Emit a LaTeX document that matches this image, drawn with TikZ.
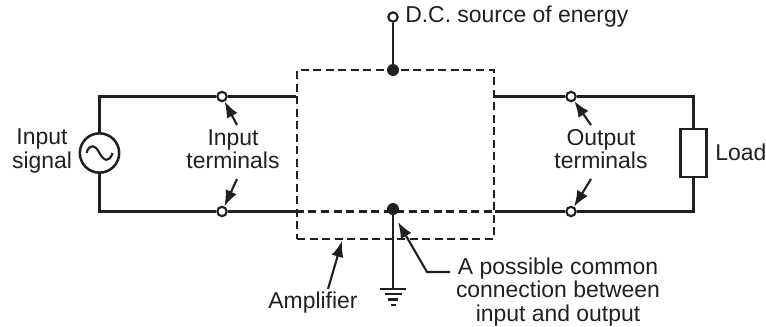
\documentclass[tikz,border=0pt]{standalone}
\usepackage{fontspec}
\setmainfont{Liberation Sans}
\usetikzlibrary{arrows.meta}
\definecolor{ink}{HTML}{231F20}
\tikzset{
>={Latex[width=3.2mm,length=4.2mm]},
	wire/.style={
		draw=ink,
		line width=2.25pt},
	thinwire/.style={
		draw=ink,
		line width=1.6pt},
	lead/.style={
		draw=ink,
		line width=1.6pt,
		->},
	dashwire/.style={
		draw=ink,
		line width=1.6pt,
		dash pattern=on 6pt off 3.4pt},
	terminal/.style={
		circle,
		draw=ink,
		fill=white,
		line width=1.6pt,
		inner sep=0pt,
		minimum size=7pt},
	dot/.style={
		circle,
		fill=ink,
		inner sep=0pt,
		minimum size=9pt},
	label/.style={
		text=ink,
		font=\fontsize{17.2}{17.6}\selectfont,
		align=center,
		inner sep=0pt}
}
\begin{document}
\begin{tikzpicture}
[x=0.75pt,y=-0.75pt]
\useasboundingbox (0,0) rectangle (766,326);
\node[dashwire, rectangle, minimum width=147.75pt, minimum height=126.75pt, inner sep=0pt] (amp) at (395.5,154.5) {};
\node[circle, wire, line width=1.9pt, inner sep=0pt, minimum size=29.5pt] (source) at (99.5,153) {};
\node[rectangle, wire, line width=1.9pt, inner sep=0pt, minimum width=19.5pt, minimum height=36pt] (load) at (693.5,153) {};
\coordinate (leftTop) at (99.5,96.5);
\coordinate (leftBot) at (99.5,211.5);
\coordinate (rightTop) at (693.5,96.5);
\coordinate (rightBot) at (693.5,211.5);
\coordinate (gnd) at (393,289);
\coordinate (bend) at (427,272);
\coordinate (commonEnd) at (450,272);
\node[terminal] (inTop) at (222,96.5) {};
\node[terminal] (inBot) at (222,211.5) {};
\node[terminal] (outTop) at (571,96.5) {};
\node[terminal] (outBot) at (571,211.5) {};
\node[terminal] (dc) at (393,17) {};
\node[dot] (dotTop) at (393,70) {};
\node[dot] (dotBot) at (393,209) {};
\node[label, anchor=west] (dcText) at (405,17) {D.C. source of energy};
\node[label] (inSignal) at (42,151) {Input\\signal};
\node[label] (inText) at (233,149) {Input\\terminals};
\node[label] (outText) at (601,149) {Output\\terminals};
\node[label, anchor=west] (loadText) at (715,152) {Load};
\node[label] (ampText) at (313,303) {Amplifier};
\node[label] (commonText) at (558,292) {A possible common\\connection between\\input and output};
\draw[wire, line join=miter] (source.north) -- (leftTop) -- (inTop);
\draw[wire, line join=miter] (source.south) -- (leftBot) -- (inBot);
\draw[wire] (inTop) -- (inTop -| amp.west);
\draw[wire] (inBot) -- (inBot -| amp.west);
\draw[wire, line join=miter] (load.north) -- (rightTop) -- (outTop);
\draw[wire, line join=miter] (load.south) -- (rightBot) -- (outBot);
\draw[wire] (outTop) -- (outTop -| amp.east);
\draw[wire] (outBot) -- (outBot -| amp.east);
\draw[dashwire] (inBot -| amp.west) -- (outBot -| amp.east);
\draw[thinwire] (dc) -- (dotTop);
\draw[thinwire] (dotBot) -- (gnd);
\draw[thinwire] ([xshift=-13*0.75pt]gnd) -- ([xshift=13*0.75pt]gnd);
\draw[thinwire] ([xshift=-8.5*0.75pt,yshift=-5*0.75pt]gnd) -- ([xshift=8.5*0.75pt,yshift=-5*0.75pt]gnd);
\draw[thinwire] ([xshift=-5*0.75pt,yshift=-10.5*0.75pt]gnd) -- ([xshift=5*0.75pt,yshift=-10.5*0.75pt]gnd);
\draw[thinwire] ([xshift=-2.5*0.75pt,yshift=-16*0.75pt]gnd) -- ([xshift=2.5*0.75pt,yshift=-16*0.75pt]gnd);
\draw[thinwire] (source.center) ++(-13,0) .. controls +(3,-10) and +(-4,-8) .. ++(13,0) .. controls +(4,8) and +(-3,10) .. ++(13,0);
\draw[lead] (237,125) -- (inTop);
\draw[lead] (237,179) -- (inBot);
\draw[lead] (591,125) -- (outTop);
\draw[lead] (591,179) -- (outBot);
\draw[lead] (328,289) -- (342,241);
\draw[lead] (commonEnd) -- (bend) -- (398,222);
\end{tikzpicture}
\end{document}
